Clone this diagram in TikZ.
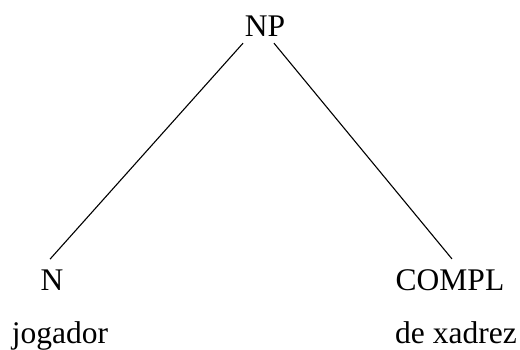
\documentclass[tikz,border=0pt]{standalone}
\usepackage{fontspec}
\setmainfont{Liberation Serif}
\begin{document}
\begin{tikzpicture}[x=1pt,y=-1pt,
  word/.style={anchor=base,inner sep=0pt,text depth=0pt,font=\fontsize{31.5}{38}\selectfont},
  branch/.style={line width=1.1pt}]
\useasboundingbox (0,0) rectangle (520,349);
\node[word] (NP) at (265,36) {NP};
\node[word] (N) at (52,290) {N};
\node[word] (COMPL) at (450,290) {COMPL};
\node[word] (jog) at (60,343) {jogador};
\node[word] (xad) at (456,343) {de xadrez};
\draw[branch] ([shift={(-22,7)}]NP.south) -- ([shift={(-2,-10)}]N.north);
\draw[branch] ([shift={(9,7)}]NP.south) -- ([shift={(2,-10)}]COMPL.north);
\end{tikzpicture}
\end{document}
